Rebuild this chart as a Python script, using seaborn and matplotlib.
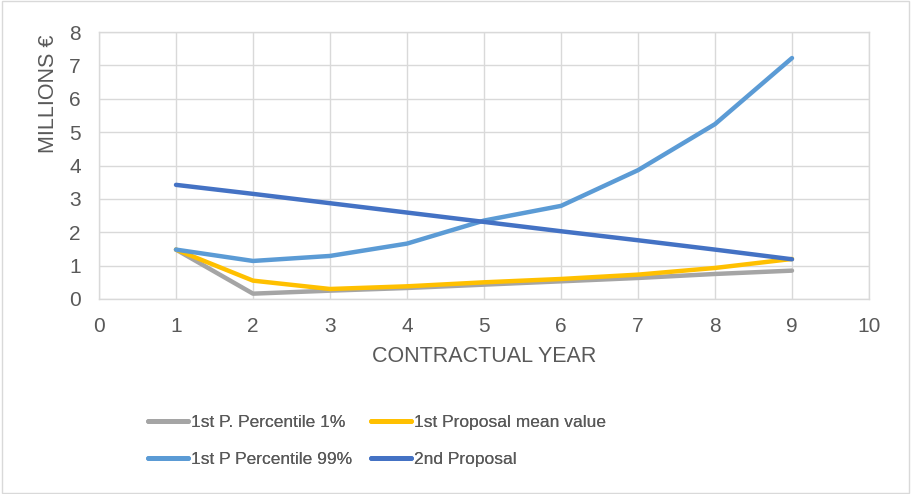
import numpy as np
import pandas as pd
import matplotlib
matplotlib.use("Agg")
import matplotlib.pyplot as plt
import seaborn as sns
from matplotlib.lines import Line2D
from matplotlib.patches import Rectangle

years = [1, 2, 3, 4, 5, 6, 7, 8, 9]
p1_percentile_1 = [1.48, 0.16, 0.25, 0.33, 0.43, 0.53, 0.63, 0.75, 0.85]
p1_mean = [1.48, 0.55, 0.30, 0.38, 0.50, 0.60, 0.73, 0.93, 1.20]
p1_percentile_99 = [1.48, 1.14, 1.29, 1.66, 2.35, 2.79, 3.86, 5.24, 7.22]
p2_proposal = [3.42, 3.15, 2.87, 2.59, 2.31, 2.03, 1.76, 1.48, 1.19]

series_names = ["1st P. Percentile 1%", "1st Proposal mean value",
                "1st P Percentile 99%", "2nd Proposal"]
series_values = [p1_percentile_1, p1_mean, p1_percentile_99, p2_proposal]
colors = ["#A5A5A5", "#FFC000", "#5B9BD5", "#4472C4"]

df = pd.DataFrame({
    "year": years * len(series_names),
    "value": sum(series_values, []),
    "series": sum([[n] * len(years) for n in series_names], []),
})

sns.set_theme(style="white")
plt.rcParams["font.family"] = ["Liberation Sans", "DejaVu Sans"]
text_color = "#595959"

W, H = 911, 494
fig = plt.figure(figsize=(W / 100, H / 100), dpi=100)
ax = fig.add_axes([99 / W, 1 - 299 / H, 770 / W, 267 / H])

sns.lineplot(data=df, x="year", y="value", hue="series", hue_order=series_names,
             palette=dict(zip(series_names, colors)), linewidth=3.2,
             legend=False, ax=ax, solid_capstyle="round")

ax.set_xlim(0, 10)
ax.set_ylim(0, 8)
ax.set_xticks(range(0, 11))
ax.set_yticks(range(0, 9))
ax.grid(True, color="#D9D9D9", linewidth=1.0)
ax.set_axisbelow(True)
for s in ax.spines.values():
    s.set_color("#D9D9D9")
    s.set_linewidth(1.0)
ax.tick_params(axis="both", length=0, labelsize=15, colors=text_color)
ax.tick_params(axis="y", pad=13)
ax.tick_params(axis="x", pad=13)

ax.set_xlabel("CONTRACTUAL YEAR", fontsize=15.5, color=text_color, va="center")
ax.xaxis.set_label_coords(0.5, (299 - 356) / 267)
ax.set_ylabel("MILLIONS €", fontsize=15.5, color=text_color, va="center")
ax.yaxis.set_label_coords((49 - 99) / 770, (299 - 94) / 267)

# legend: two columns placed side by side
handles = [Line2D([0], [0], color=c, linewidth=3.5, solid_capstyle="round") for c in colors]
for col, x0 in ((0, 148), (1, 371)):
    idx = [col, col + 2]
    leg = fig.legend([handles[i] for i in idx], [series_names[i] for i in idx],
                     loc="center left", bbox_to_anchor=(x0 / W, 1 - 441 / H),
                     frameon=False, labelcolor=text_color, borderpad=0,
                     borderaxespad=0, fontsize=12.5,
                     handlelength=2.3, handletextpad=0.15, labelspacing=1.3)
    fig.add_artist(leg)

fig.patches.append(Rectangle((0.002, 0.003), 0.996, 0.994, transform=fig.transFigure,
                             fill=False, edgecolor="#D9D9D9", linewidth=1.0))

fig.savefig("out.png", dpi=100)
